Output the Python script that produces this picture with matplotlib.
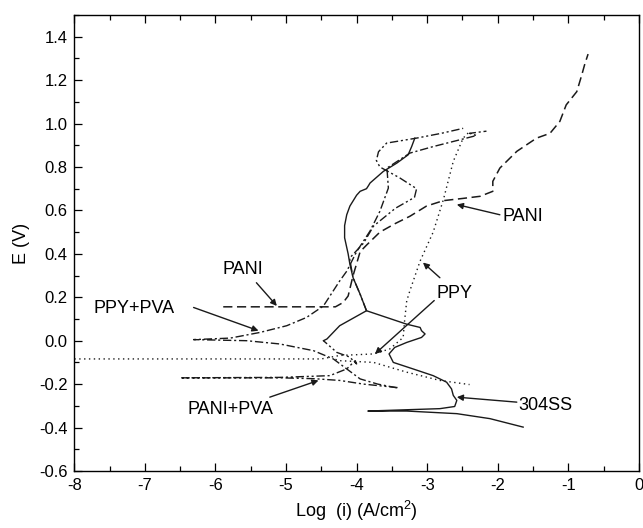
import numpy as np
import matplotlib
matplotlib.use("Agg")
import matplotlib.pyplot as plt
from matplotlib.ticker import MultipleLocator, FormatStrFormatter

plt.rcParams['font.family'] = ['Liberation Sans', 'DejaVu Sans']
plt.rcParams['mathtext.fontset'] = 'custom'
plt.rcParams['mathtext.rm'] = 'Liberation Sans'
plt.rcParams['axes.unicode_minus'] = False

# Potentiodynamic polarisation curves, log current density vs potential
ss_x = [-1.64, -2.11, -2.58, -3.29, -3.84, -3.29, -2.82, -2.61, -2.58, -2.63,
        -2.655, -2.725, -2.915, -3.2, -3.48, -3.54, -3.46, -3.29, -3.08, -3.03,
        -3.08, -3.10, -3.29, -3.575, -3.86, -3.95, -4.05, -4.095, -4.12, -4.17,
        -4.17, -4.14, -4.095, -4.0, -3.95, -3.86, -3.83, -3.81, -3.62, -3.43,
        -3.27, -3.22, -3.175]
ss_y = [-0.398, -0.359, -0.336, -0.324, -0.324, -0.318, -0.313, -0.303, -0.275,
        -0.252, -0.222, -0.191, -0.161, -0.13, -0.1, -0.061, -0.031, -0.008,
        0.015, 0.031, 0.046, 0.061, 0.076, 0.107, 0.138, 0.214, 0.29, 0.352,
        0.40, 0.474, 0.53, 0.58, 0.62, 0.67, 0.688, 0.70, 0.715, 0.726, 0.78,
        0.818, 0.856, 0.894, 0.933]

pani_x = [-5.89, -4.3, -4.19, -4.12, -4.05, -3.95, -3.86, -3.67, -3.45, -3.245,
          -3.01, -2.77, -2.5, -2.25, -2.07, -2.07, -1.97, -1.73, -1.45, -1.26,
          -1.12, -1.03, -0.88, -0.81, -0.77, -0.72]
pani_y = [0.156, 0.156, 0.176, 0.206, 0.30, 0.41, 0.44, 0.50, 0.54, 0.573,
          0.62, 0.645, 0.655, 0.665, 0.688, 0.734, 0.795, 0.872, 0.933, 0.955,
          1.01, 1.086, 1.147, 1.223, 1.27, 1.32]

ppy_x = [-8.0, -4.5, -4.24, -3.76, -3.53, -3.34, -3.32, -3.29, -3.245, -3.10,
         -2.915, -2.77, -2.63, -2.49, -2.40]
ppy_y = [-0.084, -0.084, -0.068, -0.061, -0.038, 0.015, 0.092, 0.183, 0.23,
         0.367, 0.50, 0.65, 0.826, 0.933, 0.963]
ppy_cat_x = [-4.3, -4.24, -3.76, -3.29, -2.82, -2.40]
ppy_cat_y = [-0.086, -0.092, -0.10, -0.145, -0.183, -0.202]

ppva_x = [-3.43, -3.7, -3.95, -4.14, -4.33, -4.61, -5.09, -5.56, -6.31, -5.79,
          -5.37, -4.99, -4.71, -4.47, -4.24, -4.14, -4.0, -3.86, -3.81, -3.67,
          -3.55, -3.57, -3.245, -2.915, -2.54, -2.30, -2.40, -2.16]
ppva_y = [-0.217, -0.20, -0.176, -0.13, -0.084, -0.046, -0.015, 0.0, 0.005,
          0.012, 0.038, 0.069, 0.107, 0.16, 0.275, 0.32, 0.41, 0.48, 0.505,
          0.596, 0.703, 0.795, 0.864, 0.894, 0.925, 0.945, 0.955, 0.965]

# PANI+PVA: cathodic branch and first part of the anodic scan
papva_x = [-3.42, -3.9, -4.24, -4.6, -5.09, -6.5, -5.09, -4.38, -4.14, -4.02,
           -4.0, -4.10, -4.28, -4.47]
papva_y = [-0.216, -0.20, -0.183, -0.175, -0.171, -0.171, -0.169, -0.161,
           -0.13, -0.092, -0.107, -0.075, -0.054, 0.0]
# segment running back up to the 304SS passive region
papva_mid_x = [-4.47, -4.42, -4.24, -3.86]
papva_mid_y = [0.0, 0.008, 0.069, 0.138]
# upper anodic part with the loop
papva_up_x = [-3.86, -3.95, -4.05, -4.1, -3.9, -3.76, -3.45, -3.18, -3.15,
              -3.39, -3.67, -3.72, -3.69, -3.575, -3.15, -2.80, -2.49]
papva_up_y = [0.138, 0.214, 0.29, 0.38, 0.45, 0.528, 0.61, 0.66, 0.70, 0.75,
              0.80, 0.83, 0.87, 0.91, 0.933, 0.955, 0.978]

# label text, text position, arrow tail, arrow head
labels = ['PANI', 'PPY', 'PANI', 'PPY+PVA', 'PANI+PVA', '304SS']
label_xy = [(-1.65, 0.573), (-2.61, 0.218), (-5.61, 0.326), (-7.16, 0.149),
            (-5.79, -0.317), (-1.32, -0.298)]
arrow_tail = [(-1.97, 0.58), (-2.90, 0.185), (-5.42, 0.267), (-6.31, 0.153),
              (-5.23, -0.26), (-1.73, -0.283)]
arrow_head = [(-2.58, 0.627), (-3.74, -0.061), (-5.13, 0.16), (-5.39, 0.046),
              (-4.54, -0.183), (-2.58, -0.26)]
ppy_up_tail = (-2.82, 0.29)
ppy_up_head = (-3.06, 0.36)

fig = plt.figure(figsize=(6.43, 5.28), dpi=100)
ax = fig.add_axes([0.1156, 0.108, 0.878, 0.8636])

col = '#1a1a1a'
ddot = (0, (6, 2, 1.5, 2, 1.5, 2))
ax.plot(ss_x, ss_y, color=col, lw=1.0, ls='-')
ax.plot(pani_x, pani_y, color=col, lw=1.1, ls=(0, (6, 3)))
ax.plot(ppy_x, ppy_y, color=col, lw=1.0, ls=(0, (1, 2.5)))
ax.plot(ppy_cat_x, ppy_cat_y, color=col, lw=1.0, ls=(0, (1, 2.5)))
ax.plot(ppva_x, ppva_y, color=col, lw=1.0, ls=(0, (6, 2, 1.5, 2)))
ax.plot(papva_x, papva_y, color=col, lw=1.0, ls=ddot)
ax.plot(papva_mid_x, papva_mid_y, color=col, lw=1.0, ls='-')
ax.plot(papva_up_x, papva_up_y, color=col, lw=1.0, ls=ddot)

for txt, pos, tail, head in zip(labels, label_xy, arrow_tail, arrow_head):
    ax.text(pos[0], pos[1], txt, fontsize=13, ha='center', va='center')
    ax.annotate('', xy=head, xytext=tail,
                arrowprops=dict(arrowstyle='-|>', color=col, lw=1.0,
                                mutation_scale=9, shrinkA=0, shrinkB=0))
ax.annotate('', xy=ppy_up_head, xytext=ppy_up_tail,
            arrowprops=dict(arrowstyle='-|>', color=col, lw=1.0,
                            mutation_scale=9, shrinkA=0, shrinkB=0))

ax.set_xlim(-8, 0)
ax.set_ylim(-0.6, 1.5)
ax.xaxis.set_major_locator(MultipleLocator(1))
ax.xaxis.set_minor_locator(MultipleLocator(0.5))
ax.yaxis.set_minor_locator(MultipleLocator(0.1))
ax.yaxis.set_major_formatter(FormatStrFormatter('%.1f'))
ax.set_yticks(np.arange(-0.6, 1.41, 0.2))
ax.tick_params(which='both', direction='in', top=True, right=False,
               labelsize=12, width=0.9)
ax.tick_params(which='major', length=6, pad=5)
ax.tick_params(which='minor', length=3.5)
for s in ax.spines.values():
    s.set_linewidth(1.0)

ax.set_xlabel('Log  (i) (A/cm$^2$)', fontsize=13, labelpad=4)
ax.set_ylabel('E (V)', fontsize=13, labelpad=6)

fig.savefig('out.png', dpi=100)
